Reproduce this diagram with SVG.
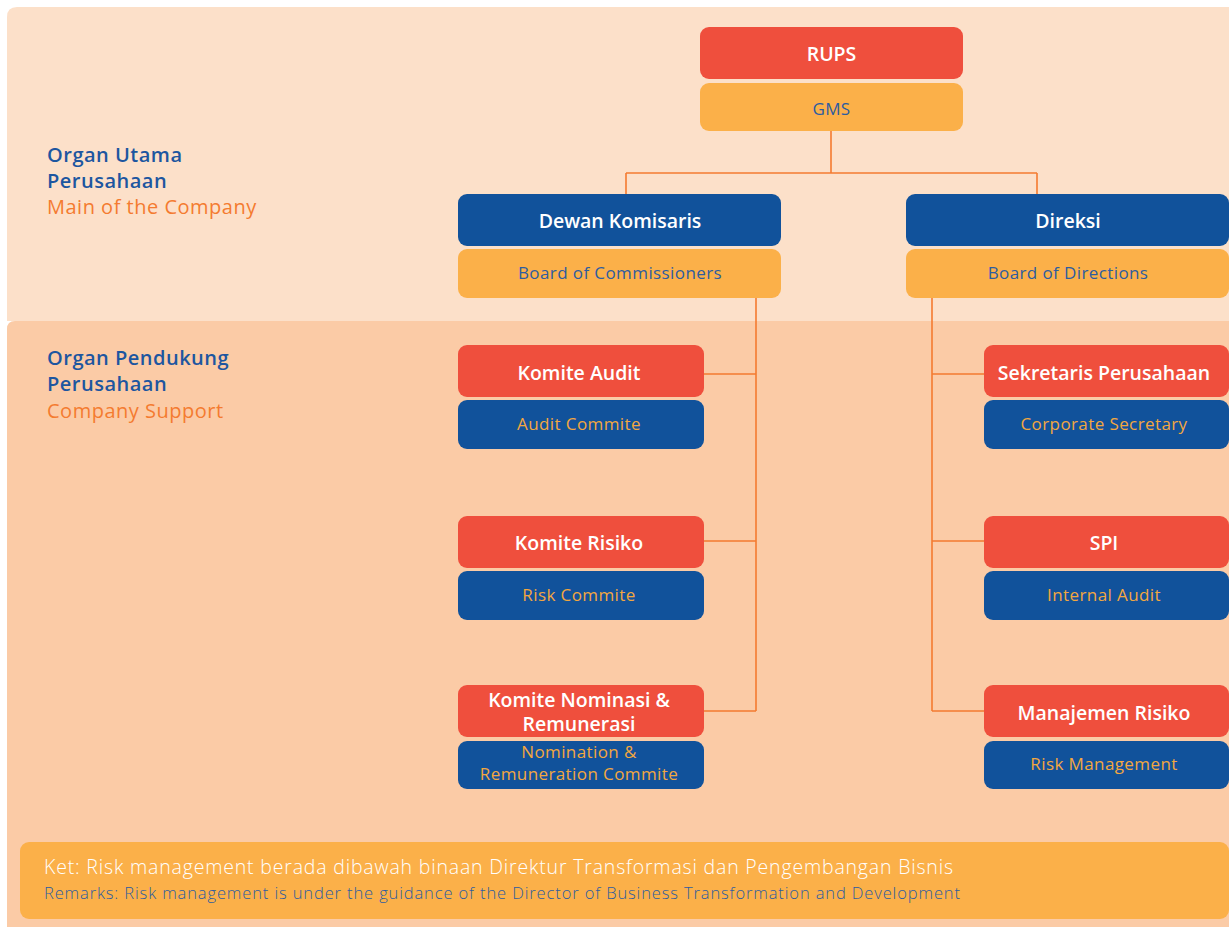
<svg xmlns="http://www.w3.org/2000/svg" width="1229" height="927" viewBox="0 0 1229 927">
  <style>
    .t { font-family: "Open Sans", "Noto Sans", sans-serif; text-anchor: middle; }
    .head { font-size: 19.5px; font-weight: 600; fill: #ffffff; }
    .sub { font-size: 17px; letter-spacing: 0.4px; }
    .red { fill: #EF4F3D; }
    .blue { fill: #11529B; }
    .gold { fill: #FBB049; }
    .subBlue { fill: #2D5CA0; }
    .subGold { fill: #F3A73F; }
    .lbl { font-family: "Open Sans", "Noto Sans", sans-serif; font-size: 20px; letter-spacing: 0.5px; }
    .lblB { fill: #1D56A0; font-weight: 600; }
    .lblO { fill: #F47B30; }
    .conn { fill: none; stroke: #F47B30; stroke-width: 1.6; }
    .note { font-family: "Open Sans", "Noto Sans", sans-serif; font-weight: 300; }
  </style>

  <rect width="1229" height="927" fill="#ffffff"/>
  <!-- upper band: main organs -->
  <path d="M7 321 V17 Q7 7 17 7 H1229 V321 Z" fill="#FCE0C9"/>
  <!-- lower band: supporting organs -->
  <path d="M7 927 V329 Q7 321 15 321 H1229 V927 Z" fill="#FBCBA6"/>

  <g id="label-main">
    <text class="lbl lblB" x="47" y="162">Organ Utama</text>
    <text class="lbl lblB" x="47" y="188">Perusahaan</text>
    <text class="lbl lblO" x="47" y="214">Main of the Company</text>
  </g>
  <g id="label-support">
    <text class="lbl lblB" x="47" y="365">Organ Pendukung</text>
    <text class="lbl lblB" x="47" y="391">Perusahaan</text>
    <text class="lbl lblO" x="47" y="418">Company Support</text>
  </g>

  <g id="connectors">
    <path class="conn" d="M831 131 V173 M626 173 H1037 M626 173 V194 M1037 173 V194"/>
    <path class="conn" d="M756 287 V711 M704 374 H756 M704 541 H756 M704 711 H756"/>
    <path class="conn" d="M932 298 V711 M932 374 H984 M932 541 H984 M932 711 H984"/>
  </g>

  <g id="rups">
    <rect class="red" x="700" y="27" width="263" height="52" rx="9"/>
    <rect class="gold" x="700" y="83" width="263" height="48" rx="9"/>
    <text class="t head" x="831.5" y="61" font-weight="700">RUPS</text>
    <text class="t sub subBlue" x="831.5" y="115">GMS</text>
  </g>

  <g id="dewan-komisaris">
    <rect class="blue" x="458" y="194" width="323" height="52" rx="9"/>
    <rect class="gold" x="458" y="249" width="323" height="49" rx="9"/>
    <text class="t head" x="620" y="228">Dewan Komisaris</text>
    <text class="t sub subBlue" x="620" y="279">Board of Commissioners</text>
  </g>

  <g id="direksi">
    <rect class="blue" x="906" y="194" width="323" height="52" rx="9"/>
    <rect class="gold" x="906" y="249" width="323" height="49" rx="9"/>
    <text class="t head" x="1068" y="228">Direksi</text>
    <text class="t sub subBlue" x="1068" y="279">Board of Directions</text>
  </g>

  <g id="komite-audit">
    <rect class="red" x="458" y="345" width="246" height="52" rx="9"/>
    <rect class="blue" x="458" y="400" width="246" height="49" rx="9"/>
    <text class="t head" x="579" y="380">Komite Audit</text>
    <text class="t sub subGold" x="579" y="430">Audit Commite</text>
  </g>

  <g id="komite-risiko">
    <rect class="red" x="458" y="516" width="246" height="52" rx="9"/>
    <rect class="blue" x="458" y="571" width="246" height="49" rx="9"/>
    <text class="t head" x="579" y="550">Komite Risiko</text>
    <text class="t sub subGold" x="579" y="601">Risk Commite</text>
  </g>

  <g id="komite-nominasi">
    <rect class="red" x="458" y="685" width="246" height="52" rx="9"/>
    <rect class="blue" x="458" y="741" width="246" height="48" rx="9"/>
    <text class="t head" x="579" y="706.5" font-size="18">Komite Nominasi &amp;</text>
    <text class="t head" x="579" y="731" font-size="18">Remunerasi</text>
    <text class="t sub subGold" x="579" y="758">Nomination &amp;<tspan x="579" y="780">Remuneration Commite</tspan></text>
  </g>

  <g id="sekretaris">
    <rect class="red" x="984" y="345" width="245" height="52" rx="9"/>
    <rect class="blue" x="984" y="400" width="245" height="49" rx="9"/>
    <text class="t head" x="1104" y="380">Sekretaris Perusahaan</text>
    <text class="t sub subGold" x="1104" y="430">Corporate Secretary</text>
  </g>

  <g id="spi">
    <rect class="red" x="984" y="516" width="245" height="52" rx="9"/>
    <rect class="blue" x="984" y="571" width="245" height="49" rx="9"/>
    <text class="t head" x="1104" y="550">SPI</text>
    <text class="t sub subGold" x="1104" y="601">Internal Audit</text>
  </g>

  <g id="manajemen-risiko">
    <rect class="red" x="984" y="685" width="245" height="52" rx="9"/>
    <rect class="blue" x="984" y="741" width="245" height="48" rx="9"/>
    <text class="t head" x="1104" y="720">Manajemen Risiko</text>
    <text class="t sub subGold" x="1104" y="770">Risk Management</text>
  </g>

  <g id="note">
    <rect class="gold" x="20" y="842" width="1209" height="77" rx="9"/>
    <text class="note" x="44" y="874" font-size="19.5" fill="#ffffff" textLength="909" lengthAdjust="spacing">Ket: Risk management berada dibawah binaan Direktur Transformasi dan Pengembangan Bisnis</text>
    <text class="note" x="44" y="899" font-size="16.5" fill="#2D5CA0" textLength="916" lengthAdjust="spacing">Remarks: Risk management is under the guidance of the Director of Business Transformation and Development</text>
  </g>
</svg>
